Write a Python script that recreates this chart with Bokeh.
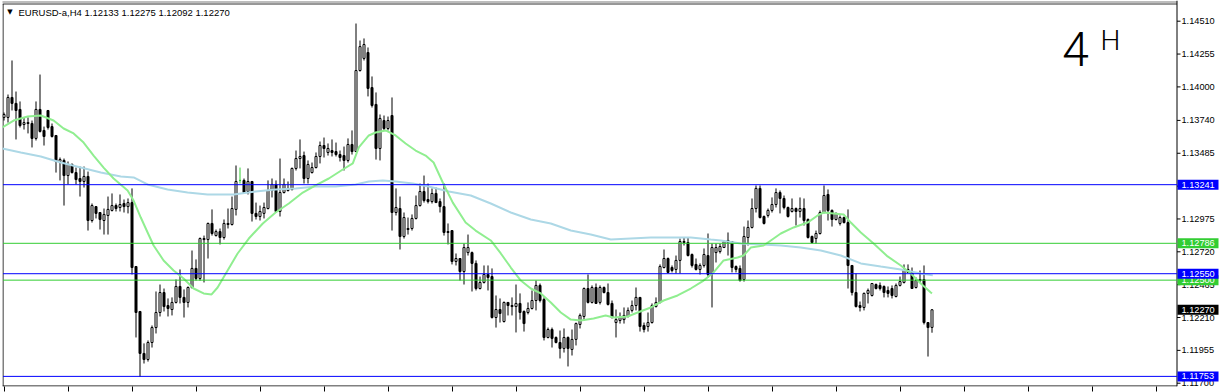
from bokeh.plotting import figure
from bokeh.models import Range1d, FixedTicker, LinearAxis, ColumnDataSource, CustomJSTickFormatter
from bokeh.core.properties import value
from bokeh.embed import file_html
from bokeh.resources import INLINE

symbol = "EURUSD-a"
timeframe = "H4"

open_ = [
    1.13763, 1.13763, 1.13918, 1.13872, 1.13825, 1.13708, 1.13716, 1.13716, 1.13600, 1.13825,
    1.13662, 1.13817, 1.13692, 1.13623, 1.13421, 1.13429, 1.13312, 1.13398, 1.13335, 1.13289,
    1.13266, 1.13305, 1.12963, 1.13071, 1.13025, 1.12963, 1.13002, 1.13041, 1.13079, 1.13064,
    1.13095, 1.13071, 1.13102, 1.12606, 1.12257, 1.11931, 1.11884, 1.12016, 1.12132, 1.12249,
    1.12404, 1.12303, 1.12272, 1.12327, 1.12451, 1.12366, 1.12327, 1.12443, 1.12591, 1.12513,
    1.12815, 1.12815, 1.12940, 1.12846, 1.12877, 1.12831, 1.12932, 1.12932, 1.13049, 1.13274,
    1.13274, 1.13188, 1.13266, 1.13018, 1.12994, 1.13018, 1.13056, 1.13196, 1.13243, 1.13033,
    1.13180, 1.13196, 1.13204, 1.13367, 1.13444, 1.13467, 1.13289, 1.13335, 1.13374, 1.13460,
    1.13545, 1.13491, 1.13506, 1.13498, 1.13475, 1.13467, 1.13429, 1.13553, 1.13498, 1.14127,
    1.14221, 1.14267, 1.13995, 1.13864, 1.13522, 1.13739, 1.13677, 1.13778, 1.13025, 1.13056,
    1.12839, 1.12901, 1.12901, 1.12979, 1.13079, 1.13188, 1.13126, 1.13110, 1.13173, 1.13110,
    1.13071, 1.12877, 1.12885, 1.12645, 1.12668, 1.12567, 1.12714, 1.12714, 1.12630, 1.12435,
    1.12482, 1.12544, 1.12528, 1.12210, 1.12272, 1.12179, 1.12327, 1.12303, 1.12295, 1.12319,
    1.12257, 1.12249, 1.12280, 1.12342, 1.12459, 1.12350, 1.12055, 1.12117, 1.12055, 1.12016,
    1.11970, 1.12055, 1.11962, 1.12040, 1.12156, 1.12218, 1.12435, 1.12327, 1.12443, 1.12327,
    1.12443, 1.12404, 1.12319, 1.12171, 1.12187, 1.12194, 1.12218, 1.12265, 1.12303, 1.12366,
    1.12148, 1.12140, 1.12171, 1.12295, 1.12327, 1.12598, 1.12668, 1.12598, 1.12583, 1.12653,
    1.12800, 1.12792, 1.12699, 1.12622, 1.12583, 1.12614, 1.12691, 1.12552, 1.12714, 1.12722,
    1.12753, 1.12792, 1.12800, 1.12606, 1.12591, 1.12505, 1.12831, 1.12909, 1.13056, 1.13212,
    1.12994, 1.13002, 1.13041, 1.13087, 1.13180, 1.13134, 1.13064, 1.13033, 1.13056, 1.13033,
    1.13056, 1.12971, 1.12839, 1.12823, 1.12862, 1.13025, 1.13165, 1.13041, 1.12971, 1.12940,
    1.12986, 1.12947, 1.12614, 1.12404, 1.12303, 1.12288, 1.12397, 1.12381, 1.12466, 1.12459,
    1.12451, 1.12420, 1.12435, 1.12373, 1.12459, 1.12482, 1.12583, 1.12567, 1.12443, 1.12497,
    1.12505, 1.12171, 1.12133,
]
high = [
    1.13801, 1.13941, 1.14205, 1.13964, 1.13887, 1.13763, 1.13763, 1.13739, 1.13887, 1.14096,
    1.13692, 1.13817, 1.13716, 1.13623, 1.13452, 1.13444, 1.13421, 1.13406, 1.13374, 1.13382,
    1.13382, 1.13343, 1.13095, 1.13071, 1.13025, 1.13056, 1.13149, 1.13173, 1.13095, 1.13165,
    1.13126, 1.13134, 1.13212, 1.12606, 1.12257, 1.12009, 1.12032, 1.12148, 1.12412, 1.12466,
    1.12435, 1.12358, 1.12366, 1.12505, 1.12583, 1.12428, 1.12451, 1.12730, 1.12661, 1.12831,
    1.12846, 1.12947, 1.13049, 1.12893, 1.12901, 1.12971, 1.13056, 1.13149, 1.13390, 1.13374,
    1.13289, 1.13367, 1.13266, 1.13102, 1.13079, 1.13102, 1.13274, 1.13289, 1.13274, 1.13444,
    1.13289, 1.13266, 1.13374, 1.13506, 1.13592, 1.13498, 1.13429, 1.13413, 1.13491, 1.13576,
    1.13607, 1.13561, 1.13592, 1.13568, 1.13506, 1.13537, 1.13600, 1.13662, 1.14492, 1.14360,
    1.14376, 1.14306, 1.14081, 1.13957, 1.13786, 1.13778, 1.13770, 1.13918, 1.13212, 1.13149,
    1.13025, 1.12986, 1.13010, 1.13157, 1.13250, 1.13312, 1.13250, 1.13212, 1.13219, 1.13134,
    1.13250, 1.12940, 1.12885, 1.12707, 1.12668, 1.12784, 1.12854, 1.12722, 1.12653, 1.12528,
    1.12614, 1.12614, 1.12591, 1.12381, 1.12358, 1.12334, 1.12327, 1.12366, 1.12466, 1.12397,
    1.12265, 1.12327, 1.12420, 1.12497, 1.12474, 1.12366, 1.12132, 1.12132, 1.12063, 1.12109,
    1.12125, 1.12063, 1.12117, 1.12171, 1.12241, 1.12443, 1.12544, 1.12459, 1.12474, 1.12459,
    1.12451, 1.12474, 1.12342, 1.12272, 1.12249, 1.12288, 1.12288, 1.12342, 1.12443, 1.12366,
    1.12171, 1.12249, 1.12319, 1.12366, 1.12622, 1.12738, 1.12676, 1.12614, 1.12691, 1.12823,
    1.12831, 1.12831, 1.12707, 1.12668, 1.12630, 1.12746, 1.12862, 1.12784, 1.12784, 1.12784,
    1.12808, 1.12870, 1.12800, 1.12614, 1.12614, 1.12916, 1.12963, 1.13134, 1.13235, 1.13235,
    1.13002, 1.13056, 1.13142, 1.13212, 1.13196, 1.13157, 1.13071, 1.13134, 1.13064, 1.13142,
    1.13134, 1.12979, 1.12846, 1.12885, 1.13041, 1.13235, 1.13204, 1.13049, 1.13025, 1.13002,
    1.12994, 1.13049, 1.12614, 1.12552, 1.12334, 1.12404, 1.12435, 1.12474, 1.12474, 1.12482,
    1.12459, 1.12451, 1.12459, 1.12474, 1.12528, 1.12622, 1.12622, 1.12598, 1.12521, 1.12575,
    1.12614, 1.12171, 1.12275,
]
low = [
    1.13739, 1.13723, 1.13817, 1.13592, 1.13685, 1.13669, 1.13639, 1.13530, 1.13584, 1.13646,
    1.13545, 1.13669, 1.13607, 1.13335, 1.13274, 1.13079, 1.13243, 1.13328, 1.13243, 1.13149,
    1.13219, 1.12885, 1.12947, 1.12979, 1.12893, 1.12854, 1.12854, 1.13033, 1.13033, 1.13033,
    1.13025, 1.13018, 1.12544, 1.12055, 1.11750, 1.11853, 1.11868, 1.11977, 1.12086, 1.12218,
    1.12257, 1.12218, 1.12226, 1.12319, 1.12319, 1.12210, 1.12288, 1.12435, 1.12497, 1.12497,
    1.12482, 1.12668, 1.12846, 1.12839, 1.12777, 1.12815, 1.12901, 1.12924, 1.13002, 1.13250,
    1.13173, 1.13165, 1.12955, 1.12971, 1.12963, 1.12979, 1.13049, 1.13142, 1.13025, 1.12994,
    1.13173, 1.13188, 1.13196, 1.13351, 1.13367, 1.13250, 1.13250, 1.13328, 1.13367, 1.13406,
    1.13452, 1.13467, 1.13460, 1.13460, 1.13421, 1.13351, 1.13413, 1.13475, 1.13498, 1.14119,
    1.14205, 1.13926, 1.13840, 1.13436, 1.13429, 1.13662, 1.13662, 1.12885, 1.13002, 1.12738,
    1.12823, 1.12854, 1.12885, 1.12971, 1.13071, 1.13102, 1.13095, 1.13095, 1.13102, 1.13025,
    1.12846, 1.12777, 1.12622, 1.12614, 1.12497, 1.12466, 1.12691, 1.12412, 1.12420, 1.12428,
    1.12474, 1.12420, 1.12202, 1.12132, 1.12171, 1.12171, 1.12226, 1.12226, 1.12094, 1.12194,
    1.12101, 1.12234, 1.12272, 1.12265, 1.12327, 1.12032, 1.12048, 1.11977, 1.12009, 1.11892,
    1.11938, 1.11830, 1.11915, 1.11993, 1.12125, 1.12187, 1.12319, 1.12319, 1.12319, 1.12311,
    1.12397, 1.12303, 1.12202, 1.12055, 1.12163, 1.12163, 1.12210, 1.12249, 1.12265, 1.12101,
    1.12094, 1.12101, 1.12163, 1.12288, 1.12319, 1.12591, 1.12552, 1.12560, 1.12552, 1.12552,
    1.12769, 1.12684, 1.12598, 1.12575, 1.12544, 1.12598, 1.12521, 1.12288, 1.12637, 1.12707,
    1.12753, 1.12691, 1.12560, 1.12560, 1.12489, 1.12489, 1.12769, 1.12901, 1.13025, 1.12979,
    1.12932, 1.12986, 1.13025, 1.13064, 1.13018, 1.13049, 1.12986, 1.13025, 1.12924, 1.12986,
    1.12924, 1.12823, 1.12784, 1.12784, 1.12854, 1.13018, 1.12963, 1.12916, 1.12963, 1.12924,
    1.12940, 1.12435, 1.12381, 1.12288, 1.12257, 1.12265, 1.12319, 1.12373, 1.12428, 1.12420,
    1.12366, 1.12366, 1.12358, 1.12366, 1.12451, 1.12474, 1.12560, 1.12435, 1.12435, 1.12482,
    1.12156, 1.11907, 1.12092,
]
close = [
    1.13786, 1.13918, 1.13872, 1.13817, 1.13700, 1.13723, 1.13723, 1.13600, 1.13825, 1.13654,
    1.13615, 1.13685, 1.13615, 1.13421, 1.13436, 1.13312, 1.13398, 1.13335, 1.13281, 1.13266,
    1.13305, 1.12963, 1.13079, 1.13018, 1.12971, 1.13010, 1.13049, 1.13079, 1.13056, 1.13087,
    1.13071, 1.13102, 1.12598, 1.12249, 1.11931, 1.11884, 1.12016, 1.12132, 1.12249, 1.12404,
    1.12295, 1.12280, 1.12327, 1.12451, 1.12366, 1.12327, 1.12443, 1.12591, 1.12513, 1.12823,
    1.12823, 1.12940, 1.12862, 1.12877, 1.12831, 1.12940, 1.12940, 1.13056, 1.13266, 1.13274,
    1.13180, 1.13266, 1.13018, 1.12994, 1.13033, 1.13064, 1.13196, 1.13243, 1.13033, 1.13180,
    1.13243, 1.13212, 1.13367, 1.13444, 1.13460, 1.13289, 1.13398, 1.13374, 1.13460, 1.13545,
    1.13522, 1.13522, 1.13491, 1.13475, 1.13452, 1.13429, 1.13553, 1.13498, 1.14127, 1.14313,
    1.14329, 1.13988, 1.13856, 1.13522, 1.13755, 1.13677, 1.13739, 1.13025, 1.13064, 1.12839,
    1.12986, 1.12893, 1.12979, 1.13079, 1.13188, 1.13118, 1.13110, 1.13173, 1.13102, 1.13071,
    1.12870, 1.12870, 1.12645, 1.12668, 1.12567, 1.12753, 1.12753, 1.12630, 1.12435, 1.12482,
    1.12544, 1.12521, 1.12210, 1.12272, 1.12241, 1.12327, 1.12303, 1.12295, 1.12319, 1.12249,
    1.12163, 1.12280, 1.12342, 1.12459, 1.12342, 1.12055, 1.12117, 1.12048, 1.12016, 1.11970,
    1.12055, 1.11970, 1.12040, 1.12163, 1.12226, 1.12435, 1.12327, 1.12443, 1.12319, 1.12443,
    1.12404, 1.12311, 1.12210, 1.12194, 1.12210, 1.12226, 1.12265, 1.12303, 1.12366, 1.12140,
    1.12117, 1.12171, 1.12303, 1.12327, 1.12606, 1.12668, 1.12560, 1.12575, 1.12653, 1.12800,
    1.12792, 1.12691, 1.12614, 1.12583, 1.12614, 1.12699, 1.12544, 1.12753, 1.12753, 1.12761,
    1.12800, 1.12808, 1.12598, 1.12583, 1.12497, 1.12839, 1.12909, 1.13056, 1.13212, 1.12986,
    1.12940, 1.13041, 1.13087, 1.13180, 1.13134, 1.13064, 1.12994, 1.13056, 1.13033, 1.13056,
    1.12963, 1.12831, 1.12792, 1.12862, 1.13025, 1.13157, 1.13041, 1.12971, 1.13018, 1.12986,
    1.12947, 1.12614, 1.12404, 1.12295, 1.12288, 1.12397, 1.12420, 1.12474, 1.12435, 1.12435,
    1.12404, 1.12397, 1.12381, 1.12459, 1.12489, 1.12583, 1.12560, 1.12435, 1.12497, 1.12505,
    1.12171, 1.12132, 1.12270,
]

# moving averages (bar index, price)
fast_ma_x = [-0.4, 2.4, 5.9, 9.2, 12.4, 14.9, 17.4, 19.9, 22.4, 24.9, 27.4, 30.9, 32.4, 34.2, 35.9,
             37.4, 39.9, 42.4, 44.9, 47.4, 49.9, 51.9, 53.4, 55.9, 58.4, 61.2, 64.7, 67.9, 71.2, 74.7,
             77.9, 81.2, 84.7, 87.2, 88.7, 91.2, 92.9, 95.4, 97.9, 100.4, 102.9, 105.4, 107.4, 109.7,
             112.2, 115.4, 117.9, 121.7, 124.2, 126.7, 129.2, 131.7, 134.2, 136.7, 139.2, 141.7, 144.2,
             147.4, 150.4, 152.4, 155.9, 158.4, 161.7, 164.9, 168.4, 171.7, 174.9, 177.4, 179.9, 183.4,
             184.9, 186.7, 189.9, 191.7, 194.2, 197.4, 200.9, 203.4, 204.9, 207.4, 209.9, 211.7, 214.2,
             217.4, 220.9, 224.2, 226.7, 229.2, 231.7, 232]
fast_ma_y = [1.13685, 1.13739, 1.13770, 1.13778, 1.13739, 1.13677, 1.13639, 1.13568, 1.13467, 1.13374,
             1.13289, 1.13196, 1.13118, 1.12986, 1.12870, 1.12769, 1.12653, 1.12575, 1.12513, 1.12435,
             1.12397, 1.12389, 1.12443, 1.12575, 1.12707, 1.12823, 1.12940, 1.13025, 1.13095, 1.13180,
             1.13235, 1.13289, 1.13359, 1.13406, 1.13530, 1.13623, 1.13646, 1.13662, 1.13623, 1.13561,
             1.13506, 1.13467, 1.13413, 1.13258, 1.13102, 1.12947, 1.12885, 1.12808, 1.12707, 1.12598,
             1.12497, 1.12435, 1.12397, 1.12327, 1.12249, 1.12194, 1.12187, 1.12202, 1.12226, 1.12210,
             1.12218, 1.12249, 1.12288, 1.12342, 1.12381, 1.12435, 1.12497, 1.12560, 1.12653, 1.12676,
             1.12691, 1.12753, 1.12769, 1.12808, 1.12862, 1.12909, 1.12947, 1.13002, 1.13025, 1.13018,
             1.13010, 1.12947, 1.12870, 1.12784, 1.12684, 1.12614, 1.12552, 1.12474, 1.12404, 1.12397]
slow_ma_x = [-0.4, 4.2, 9.2, 14.2, 19.2, 24.2, 29.2, 32.4, 35.9, 40.9, 45.9, 50.9, 57.4, 62.9, 67.9,
             72.9, 77.9, 82.9, 87.9, 91.2, 94.7, 97.9, 102.2, 106.2, 111.2, 116.7, 121.7, 126.7, 131.7,
             136.7, 141.7, 146.7, 151.7, 156.7, 161.7, 166.7, 171.7, 176.7, 179.2, 184.2, 189.2, 194.2,
             199.2, 204.2, 209.2, 214.2, 219.2, 224.2, 229.2, 232.2]
slow_ma_y = [1.13522, 1.13491, 1.13460, 1.13413, 1.13374, 1.13335, 1.13305, 1.13297, 1.13243, 1.13204,
             1.13180, 1.13165, 1.13165, 1.13188, 1.13204, 1.13212, 1.13227, 1.13227, 1.13243, 1.13266,
             1.13274, 1.13266, 1.13250, 1.13227, 1.13188, 1.13157, 1.13095, 1.13025, 1.12971, 1.12940,
             1.12885, 1.12854, 1.12815, 1.12823, 1.12831, 1.12831, 1.12831, 1.12815, 1.12808, 1.12784,
             1.12777, 1.12769, 1.12753, 1.12730, 1.12691, 1.12630, 1.12606, 1.12583, 1.12552, 1.12537]

# horizontal price levels (drawing order: later boxes cover earlier ones)
level_prices = [1.13241, 1.12786, 1.12500, 1.12550, 1.11753]
level_colors = ["#0000FF", "#32CD32", "#32CD32", "#0000FF", "#0000FF"]

price_ticks = [1.14510, 1.14255, 1.14000, 1.13740, 1.13485, 1.13230, 1.12975,
               1.12720, 1.12465, 1.12210, 1.11955, 1.11700]
time_ticks = list(range(0, 289, 16))

# ---------------------------------------------------------------------------
n = len(close)
idx = list(range(n))
body_top = [max(o, c) for o, c in zip(open_, close)]
body_bot = [min(o, c) for o, c in zip(open_, close)]
doji = [abs(c - o) < 1e-9 for o, c in zip(open_, close)]
fill = ["white" if c > o else "black" for o, c in zip(open_, close)]
edge = ["#32CD32" if d else "black" for d in doji]
src = ColumnDataSource(dict(x=idx, high=high, low=low, top=body_top, bot=body_bot,
                            fill=fill, edge=edge))

# layout (pixels)
W, H = 1220, 392
FRAME_LEFT, BORDER_B = 2, 6
FRAME_W, FRAME_H = W - FRAME_LEFT, H - BORDER_B
BAR_PX = 4.0               # one H4 bar every 4 px
FIRST_BAR_PX = 3.5         # pixel centre of bar 0
PX_PER_PRICE = 12883.0     # vertical scale
Y_OF_14510 = 20.7          # pixel row of 1.14510
SCALE_X = 1176.5           # price-scale separator
LABEL_X = 1181
BOX_R = 1218

x_start = -(FIRST_BAR_PX - FRAME_LEFT) / BAR_PX
x_end = x_start + FRAME_W / BAR_PX
p_top = 1.14510 + Y_OF_14510 / PX_PER_PRICE
p_bot = p_top - FRAME_H / PX_PER_PRICE


def gx(px):
    return x_start + (px - FRAME_LEFT) / BAR_PX


def gy(py):
    return p_top - py / PX_PER_PRICE


p = figure(width=W, height=H, output_backend="svg", toolbar_location=None,
           x_range=Range1d(x_start, x_end), y_range=Range1d(p_bot, p_top),
           x_axis_location=None, y_axis_location=None,
           min_border_left=FRAME_LEFT, min_border_right=0,
           min_border_top=0, min_border_bottom=BORDER_B,
           background_fill_color="white", border_fill_color="white")
p.xgrid.visible = False
p.ygrid.visible = False
p.outline_line_color = None

xaxis = LinearAxis(ticker=FixedTicker(ticks=time_ticks, minor_ticks=[]),
                   formatter=CustomJSTickFormatter(code="return ''"),
                   major_tick_out=5, major_tick_in=0, minor_tick_out=0, minor_tick_in=0,
                   major_label_standoff=0, major_label_text_font_size="0px",
                   axis_line_color=None, major_tick_line_color="black")
p.add_layout(xaxis, "below")

FONT = value("Liberation Sans")
FS = value("9.2px")

# chart window borders
p.segment(x0=[gx(0), gx(2), gx(2)], x1=[gx(SCALE_X)] * 3,
          y0=[gy(1.5), gy(3.5), gy(385.5)], y1=[gy(1.5), gy(3.5), gy(385.5)],
          line_color=["#7a7a7a", "#303030", "black"], line_width=1)
p.segment(x0=[gx(2.5), gx(SCALE_X)], x1=[gx(2.5), gx(SCALE_X)],
          y0=[gy(3.5), gy(0)], y1=[gy(386), gy(386)], line_color="black", line_width=1)

# candles
p.segment(x0="x", y0="low", x1="x", y1="high", source=src, line_color="edge", line_width=1)
p.vbar(x="x", width=0.5, top="top", bottom="bot", source=src,
       fill_color="fill", line_color="edge", line_width=1)

# moving averages
p.line(slow_ma_x, slow_ma_y, line_color="#ADD8E6", line_width=2)
p.line(fast_ma_x, fast_ma_y, line_color="#90EE90", line_width=2)

# horizontal level lines up to the price scale
p.segment(x0=[gx(2.5)] * len(level_prices), x1=[gx(SCALE_X)] * len(level_prices),
          y0=level_prices, y1=level_prices, line_color=level_colors, line_width=1)

# price scale: ticks and labels
p.segment(x0=[gx(SCALE_X)] * len(price_ticks), x1=[gx(1180)] * len(price_ticks),
          y0=price_ticks, y1=price_ticks, line_color="black", line_width=1)
p.text(x=[gx(LABEL_X)] * len(price_ticks), y=price_ticks,
       text=[f"{t:.5f}" for t in price_ticks], text_font=FONT, text_font_size=FS,
       text_color="black", text_align="left", text_baseline="middle")

# coloured price boxes of the levels and of the last price
box_prices = level_prices + [close[-1]]
box_colors = level_colors + ["black"]
half = 5.0 / PX_PER_PRICE
for pr, col in zip(box_prices, box_colors):
    p.quad(left=[gx(SCALE_X + 0.5)], right=[gx(BOX_R)], top=[pr + half], bottom=[pr - half],
           fill_color=col, line_color=None)
    p.text(x=[gx(LABEL_X)], y=[pr], text=[f"{pr:.5f}"], text_font=FONT, text_font_size=FS,
           text_color="white", text_align="left", text_baseline="middle")

# header
p.text(x=[gx(9.5)], y=[gy(11.7)], text=["\u25BC"], text_font=value("DejaVu Sans"),
       text_font_size=value("7px"), text_color="black", text_align="center",
       text_baseline="middle")
header = f"{symbol},{timeframe}  {open_[-1]:.5f} {high[-1]:.5f} {low[-1]:.5f} {close[-1]:.5f}"
p.text(x=[gx(18)], y=[gy(11.7)], text=[header], text_font=FONT, text_font_size=value("9.5px"),
       text_color="black", text_align="left", text_baseline="middle")

# handwritten timeframe note
HAND = value("Roboto Light, Lato, Liberation Sans")
p.text(x=[gx(1075)], y=[gy(48)], text=["4"], text_font=HAND, text_font_size=value("48px"),
       text_color="black", text_align="center", text_baseline="middle")
p.text(x=[gx(1110)], y=[gy(40)], text=["H"], text_font=HAND, text_font_size=value("28px"),
       text_color="black", text_align="center", text_baseline="middle")

open("out.html", "w").write(file_html(p, INLINE))
